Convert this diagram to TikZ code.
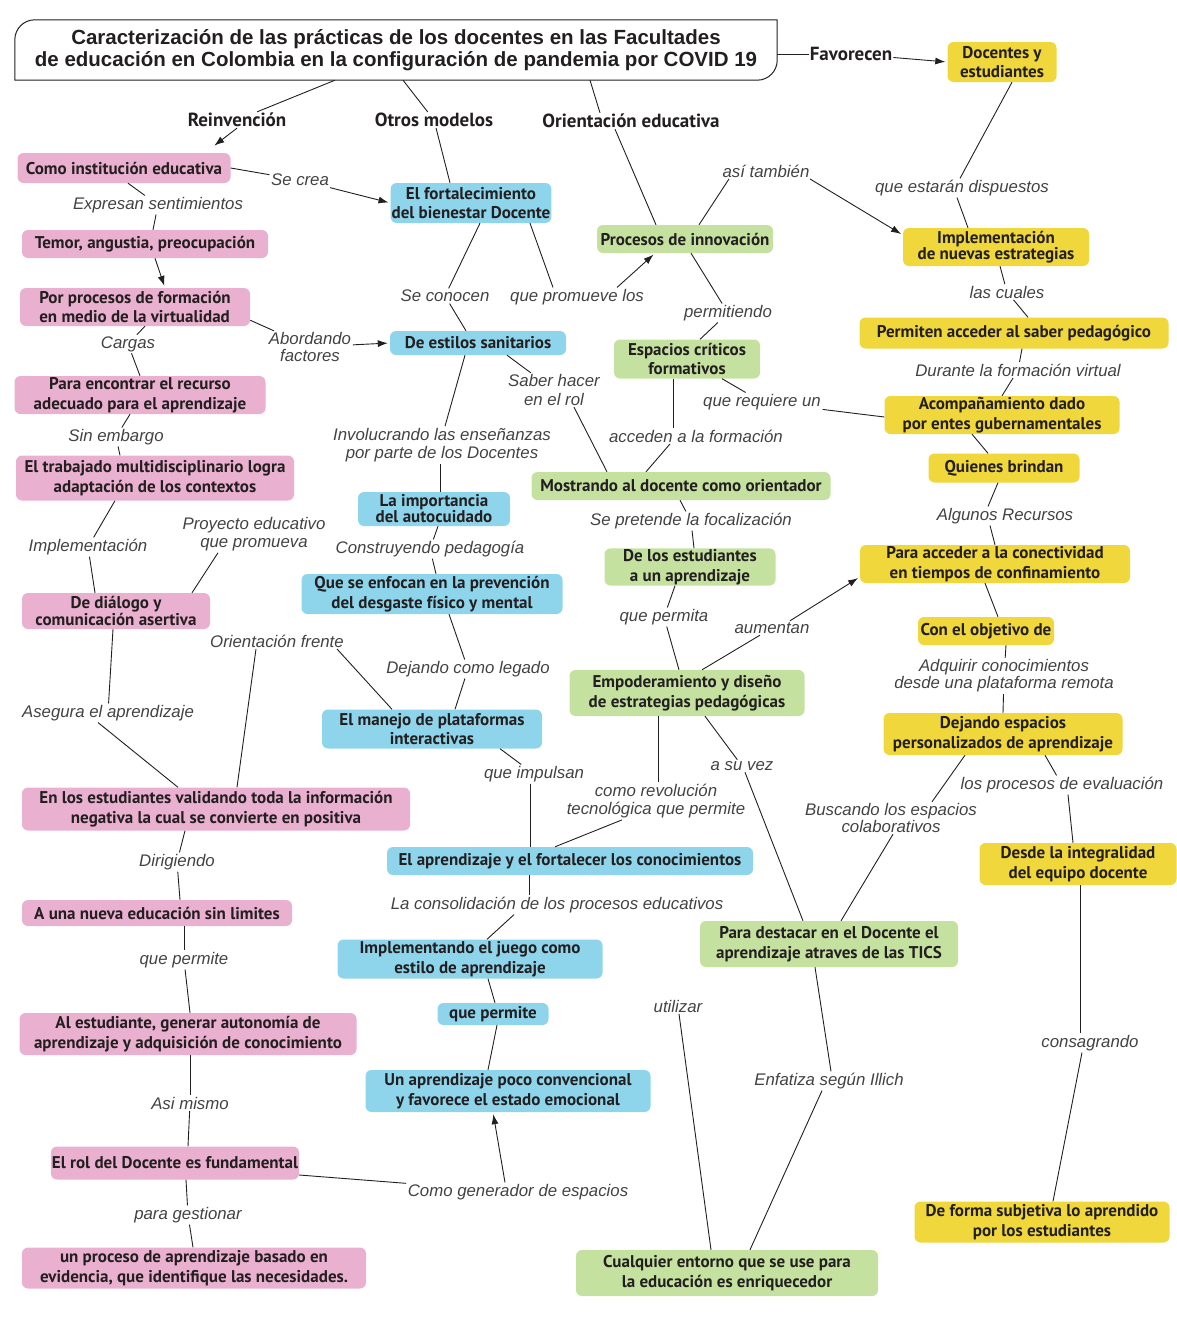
\documentclass[tikz,border=0pt]{standalone}
\usepackage{fontspec}
\usepackage{tikz}
\usetikzlibrary{arrows.meta}
\newfontfamily\boxfont{PT Sans}
\newfontfamily\lblfont{Liberation Sans}
\definecolor{pinkc}{HTML}{EAB0D0}
\definecolor{bluec}{HTML}{8ED5EB}
\definecolor{greenc}{HTML}{C5E1A0}
\definecolor{yellowc}{HTML}{F0D73C}
\definecolor{inkc}{HTML}{231F20}
\begin{document}
\begin{tikzpicture}[x=1pt,y=-1pt,
    box/.style={rounded corners=6pt,align=center,inner sep=1pt,text=inkc,
      font=\boxfont\bfseries\fontsize{17}{19.5}\selectfont},
    pinkbox/.style={box,fill=pinkc},
    bluebox/.style={box,fill=bluec},
    greenbox/.style={box,fill=greenc},
    yellowbox/.style={box,fill=yellowc},
    head/.style={text=inkc,inner sep=1pt,font=\boxfont\bfseries\fontsize{19}{21}\selectfont},
    lbl/.style={text=inkc!85,inner sep=1.5pt,align=center,
      font=\lblfont\itshape\fontsize{16.8}{18.5}\selectfont},
    conn/.style={draw=inkc,line width=0.9pt},
    arr/.style={conn,-{Latex[length=10pt,width=7pt]},shorten >=2pt}]
  \useasboundingbox (0,0) rectangle (1177,1333);

  % title
  \node[minimum width=762pt,minimum height=60pt,inner sep=0pt,align=center,text=inkc,
    font=\lblfont\bfseries\fontsize{20.5}{21.5}\selectfont] (title) at (396,50)
    {Caracterización de las prácticas de los docentes en las Facultades\\
     de educación en Colombia en la configuración de pandemia por COVID 19};
  \draw[line width=1pt,draw=inkc] (title.north east) -- ([xshift=20pt]title.north west)
    arc[start angle=90,end angle=180,radius=20pt] -- (title.south west)
    -- ([xshift=-20pt]title.south east) arc[start angle=270,end angle=360,radius=20pt]
    -- cycle;

  \node[head] (lreinv) at (237,120) {Reinvención};
  \node[head] (lotros) at (434,120) {Otros modelos};
  \node[head] (lorient) at (631,121) {Orientación educativa};
  \node[head] (lfavor) at (851,54) {Favorecen};

  % pink column
  \node[pinkbox,minimum width=213pt,minimum height=30pt] (p1) at (124,168) {Como institución educativa};
  \node[pinkbox,minimum width=246pt,minimum height=28pt] (p2) at (145,244) {Temor, angustia, preocupación};
  \node[pinkbox,minimum width=230pt,minimum height=38pt,align=left] (p3) at (135,307) {Por procesos de formación\\en medio de la virtualidad};
  \node[pinkbox,minimum width=251pt,minimum height=38pt] (p4) at (140,395) {Para encontrar el recurso\\adecuado para el aprendizaje};
  \node[pinkbox,minimum width=278pt,minimum height=45pt] (p5) at (155,478) {El trabajado multidisciplinario logra\\adaptación de los contextos};
  \node[pinkbox,minimum width=188pt,minimum height=36pt,font=\boxfont\bfseries\fontsize{17}{15}\selectfont] (p6) at (116,611) {De diálogo y\\comunicación asertiva};
  \node[pinkbox,minimum width=388pt,minimum height=43pt] (p7) at (216,809) {En los estudiantes validando toda la información\\negativa la cual se convierte en positiva};
  \node[pinkbox,minimum width=270pt,minimum height=26pt] (p8) at (157,913) {A una nueva educación sin limites};
  \node[pinkbox,minimum width=337pt,minimum height=42pt] (p9) at (188,1034) {Al estudiante, generar autonomía de\\aprendizaje y adquisición de conocimiento};
  \node[pinkbox,minimum width=239pt,minimum height=33pt] (p10) at (175,1163) {El rol del Docente es fundamental};
  \node[pinkbox,minimum width=344pt,minimum height=41pt] (p11) at (194,1268) {un proceso de aprendizaje basado en\\evidencia, que identifique las necesidades.};

  % blue column
  \node[bluebox,minimum width=160pt,minimum height=40pt] (b1) at (471,203) {El fortalecimiento\\del bienestar Docente};
  \node[bluebox,minimum width=176pt,minimum height=24pt] (b2) at (478,343) {De estilos sanitarios};
  \node[bluebox,minimum width=152pt,minimum height=34pt,font=\boxfont\bfseries\fontsize{17}{16}\selectfont] (b3) at (434,509) {La importancia\\del autocuidado};
  \node[bluebox,minimum width=261pt,minimum height=40pt] (b4) at (432,594) {Que se enfocan en la prevención\\del desgaste físico y mental};
  \node[bluebox,minimum width=220pt,minimum height=39pt] (b5) at (432,729) {El manejo de plataformas\\interactivas};
  \node[bluebox,minimum width=366pt,minimum height=28pt] (b6) at (570,861) {El aprendizaje y el fortalecer los conocimientos};
  \node[bluebox,minimum width=265pt,minimum height=39pt] (b7) at (470,959) {Implementando el juego como\\estilo de aprendizaje};
  \node[bluebox,minimum width=111pt,minimum height=22pt] (b8) at (493,1014) {que permite};
  \node[bluebox,minimum width=285pt,minimum height=42pt] (b9) at (508,1091) {Un aprendizaje poco convencional\\y favorece el estado emocional};

  % green column
  \node[greenbox,minimum width=176pt,minimum height=28pt] (g1) at (685,239) {Procesos de innovación};
  \node[greenbox,minimum width=146pt,minimum height=39pt] (g2) at (687,359) {Espacios críticos\\formativos};
  \node[greenbox,minimum width=299pt,minimum height=28pt] (g3) at (681,486) {Mostrando al docente como orientador};
  \node[greenbox,minimum width=171pt,minimum height=37pt] (g4) at (690,567) {De los estudiantes\\a un aprendizaje};
  \node[greenbox,minimum width=235pt,minimum height=46pt] (g5) at (687,693) {Empoderamiento y diseño\\de estrategias pedagógicas};
  \node[greenbox,minimum width=258pt,minimum height=46pt] (g6) at (829,944) {Para destacar en el Docente el\\aprendizaje atraves de las TICS};
  \node[greenbox,minimum width=302pt,minimum height=46pt] (g7) at (727,1273) {Cualquier entorno que se use para\\la educación es enriquecedor};

  % yellow column
  \node[yellowbox,minimum width=109pt,minimum height=40pt] (y1) at (1002,62) {Docentes y\\estudiantes};
  \node[yellowbox,minimum width=186pt,minimum height=38pt,font=\boxfont\bfseries\fontsize{17}{16}\selectfont] (y2) at (996,247) {Implementación\\de nuevas estrategias};
  \node[yellowbox,minimum width=309pt,minimum height=31pt] (y3) at (1014,333) {Permiten acceder al saber pedagógico};
  \node[yellowbox,minimum width=235pt,minimum height=38pt] (y4) at (1002,415) {Acompañamiento dado\\por entes gubernamentales};
  \node[yellowbox,minimum width=151pt,minimum height=29pt] (y5) at (1004,468) {Quienes brindan};
  \node[yellowbox,minimum width=270pt,minimum height=38pt] (y6) at (995,564) {Para acceder a la conectividad\\en tiempos de confinamiento};
  \node[yellowbox,minimum width=136pt,minimum height=28pt] (y7) at (986,631) {Con el objetivo de};
  \node[yellowbox,minimum width=239pt,minimum height=42pt] (y8) at (1003,734) {Dejando espacios\\personalizados de aprendizaje};
  \node[yellowbox,minimum width=197pt,minimum height=42pt] (y9) at (1078,864) {Desde la integralidad\\del equipo docente};
  \node[yellowbox,minimum width=255pt,minimum height=41pt] (y10) at (1042,1222) {De forma subjetiva lo aprendido\\por los estudiantes};

  % linking phrases
  \node[lbl] (lcrea) at (300,180) {Se crea};
  \node[lbl] (lexpresan) at (158,205) {Expresan sentimientos};
  \node[lbl] (lconocen) at (445,296) {Se conocen};
  \node[lbl] (lpromueve) at (577,297) {que promueve los};
  \node[lbl] (ltambien) at (766,171) {así también};
  \node[lbl] (ldispuestos) at (962,188) {que estarán dispuestos};
  \node[lbl] (lcuales) at (1007,292) {las cuales};
  \node[lbl] (lpermitiendo) at (728,313) {permitiendo};
  \node[lbl] (lcargas) at (128,344) {Cargas};
  \node[lbl,font=\lblfont\itshape\fontsize{16.8}{16.5}\selectfont] (labordando) at (310,347) {Abordando\\factores};
  \node[lbl] (lsaber) at (554,390) {Saber hacer\\en el rol};
  \node[lbl] (lrequiere) at (762,402) {que requiere un};
  \node[lbl] (ldurante) at (1018,370) {Durante la formación virtual};
  \node[lbl] (lsinembargo) at (116,437) {Sin embargo};
  \node[lbl] (linvolucrando) at (442,445) {Involucrando las enseñanzas\\por parte de los Docentes};
  \node[lbl] (lacceden) at (696,436) {acceden a la formación};
  \node[lbl] (lpretende) at (691,521) {Se pretende la focalización};
  \node[lbl] (lrecursos) at (1005,516) {Algunos Recursos};
  \node[lbl] (limplementacion) at (88,547) {Implementación};
  \node[lbl] (lproyecto) at (254,534) {Proyecto educativo\\que promueva};
  \node[lbl] (lconstruyendo) at (430,549) {Construyendo pedagogía};
  \node[lbl] (lpermita) at (664,617) {que permita};
  \node[lbl] (laumentan) at (772,628) {aumentan};
  \node[lbl] (lorientfrente) at (277,641) {Orientación frente};
  \node[lbl] (llegado) at (468,669) {Dejando como legado};
  \node[lbl,font=\lblfont\itshape\fontsize{16.8}{17}\selectfont] (ladquirir) at (1004,676) {Adquirir conocimientos\\desde una plataforma remota};
  \node[lbl] (lasegura) at (108,713) {Asegura el aprendizaje};
  \node[lbl] (limpulsan) at (534,774) {que impulsan};
  \node[lbl] (lsuvez) at (742,766) {a su vez};
  \node[lbl] (lrevolucion) at (656,801) {como revolución\\tecnológica que permite};
  \node[lbl,font=\lblfont\itshape\fontsize{16.8}{14}\selectfont] (lbuscando) at (891,818) {Buscando los espacios\\colaborativos};
  \node[lbl] (levaluacion) at (1062,785) {los procesos de evaluación};
  \node[lbl] (ldirigiendo) at (177,862) {Dirigiendo};
  \node[lbl] (lconsolidacion) at (557,905) {La consolidación de los procesos educativos};
  \node[lbl] (lqpermite) at (184,960) {que permite};
  \node[lbl] (lutilizar) at (678,1006) {utilizar};
  \node[lbl] (lconsagrando) at (1090,1043) {consagrando};
  \node[lbl] (lillich) at (829,1081) {Enfatiza según Illich};
  \node[lbl] (lasimismo) at (190,1103) {Asi mismo};
  \node[lbl] (lgenerador) at (518,1192) {Como generador de espacios};
  \node[lbl] (lgestionar) at (188,1215) {para gestionar};

  % title branches
  \draw[conn] ([xshift=-61pt]title.south) -- (lreinv);
  \draw[arr] (lreinv.south) -- ([xshift=-18pt,yshift=6pt]p1.north east);
  \draw[conn] ([xshift=7pt]title.south) -- (lotros);
  \draw[conn] (lotros) -- ([xshift=-21pt]b1.north);
  \draw[conn] ([xshift=194pt]title.south) -- ([xshift=-31pt]lorient.north);
  \draw[conn] ([xshift=-16pt]lorient.south) -- ([xshift=-29pt]g1.north);
  \draw[conn] ([yshift=-4pt]title.east) -- (lfavor);
  \draw[arr] (lfavor) -- (y1.west);

  % pink links
  \draw[conn] (p1.east) -- (lcrea);
  \draw[arr] (lcrea) -- (b1.west);
  \draw[conn] ([xshift=4pt]p1.south) -- (lexpresan);
  \draw[conn] (lexpresan) -- ([xshift=8pt]p2.north);
  \draw[arr] ([xshift=10pt]p2.south) -- ([xshift=30pt]p3.north);
  \draw[conn] ([xshift=10pt]p3.south) -- (lcargas);
  \draw[conn] (lcargas) -- (p4.north);
  \draw[conn] ([yshift=6pt]p3.south east) -- (labordando);
  \draw[arr] (labordando) -- (b2.west);
  \draw[conn] ([xshift=-10pt]p4.south) -- (lsinembargo);
  \draw[conn] (lsinembargo) -- ([xshift=-35pt]p5.north);
  \draw[conn] ([xshift=-40pt]p5.south) -- (limplementacion);
  \draw[conn] (limplementacion) -- ([xshift=-21pt]p6.north);
  \draw[conn] ([xshift=-36pt]lproyecto.south) -- ([xshift=76pt]p6.north);
  \draw[conn] ([xshift=-3pt]p6.south) -- (lasegura);
  \draw[conn] ([xshift=-10pt]lasegura.south) -- ([xshift=-38pt]p7.north);
  \draw[conn] ([xshift=-21pt]lorientfrente.south) -- ([xshift=21pt]p7.north);
  \draw[conn] ([xshift=60pt]lorientfrente.south) -- ([xshift=-40pt]b5.north);
  \draw[conn] ([xshift=-31pt]p7.south) -- (ldirigiendo);
  \draw[conn] (ldirigiendo) -- ([xshift=23pt]p8.north);
  \draw[conn] ([xshift=27pt]p8.south) -- (lqpermite);
  \draw[conn] (lqpermite) -- ([xshift=2pt]p9.north);
  \draw[conn] ([xshift=2pt]p9.south) -- (lasimismo);
  \draw[conn] (lasimismo) -- ([xshift=13pt]p10.north);
  \draw[conn] ([xshift=11pt]p10.south) -- (lgestionar);
  \draw[conn] (lgestionar) -- ([xshift=-1pt]p11.north);
  \draw[conn] ([yshift=-12pt]p10.east) -- (lgenerador);
  \draw[arr] ([xshift=-13pt]lgenerador.north) -- ([xshift=-15pt]b9.south);

  % blue links
  \draw[conn] ([xshift=9pt]b1.south) -- (lconocen);
  \draw[conn] (lconocen) -- ([xshift=-12pt]b2.north);
  \draw[conn] ([xshift=59pt]b1.south) -- ([xshift=-24pt]lpromueve.north);
  \draw[arr] ([xshift=40pt]lpromueve.north) -- ([xshift=-30pt]g1.south);
  \draw[conn] ([xshift=-13pt]b2.south) -- ([xshift=3pt]linvolucrando.north);
  \draw[conn] ([xshift=-2pt]linvolucrando.south) -- ([xshift=6pt]b3.north);
  \draw[conn] ([xshift=29pt]b2.south) -- (lsaber);
  \draw[conn] ([xshift=20pt]lsaber.south) -- ([xshift=-74pt]g3.north);
  \draw[conn] ([xshift=4pt]b3.south) -- (lconstruyendo);
  \draw[conn] (lconstruyendo) -- ([xshift=4pt]b4.north);
  \draw[conn] ([xshift=17pt]b4.south) -- (llegado);
  \draw[conn] (llegado) -- ([xshift=23pt]b5.north);
  \draw[conn] ([xshift=68pt]b5.south) -- (limpulsan);
  \draw[conn] ([xshift=-4pt]limpulsan.south) -- ([xshift=-40pt]b6.north);
  \draw[conn] ([xshift=-41pt]b6.south) -- ([xshift=-28pt]lconsolidacion.north);
  \draw[conn] ([xshift=-43pt]lconsolidacion.south) -- ([xshift=17pt]b7.north);
  \draw[conn] ([xshift=18pt]b7.south) -- ([xshift=2pt]b8.north);
  \draw[conn] ([xshift=4pt]b8.south) -- ([xshift=-20pt]b9.north);

  % green links
  \draw[conn] ([xshift=14pt]g1.north) -- ([xshift=-37pt]ltambien.south);
  \draw[arr] ([xshift=44pt]ltambien.south) -- ([yshift=12pt]y2.west);
  \draw[conn] ([xshift=6pt]g1.south) -- (lpermitiendo);
  \draw[conn] (lpermitiendo) -- ([xshift=13pt]g2.north);
  \draw[conn] ([xshift=35pt]g2.south) -- (lrequiere);
  \draw[conn] (lrequiere) -- ([yshift=-2pt]y4.west);
  \draw[conn] ([xshift=-14pt]g2.south) -- ([xshift=-23pt]lacceden.north);
  \draw[conn] ([xshift=-26pt]lacceden.south) -- ([xshift=-35pt]g3.north);
  \draw[conn] ([xshift=-1pt]g3.south) -- (lpretende);
  \draw[conn] (lpretende) -- ([xshift=4pt]g4.north);
  \draw[conn] ([xshift=-15pt]g4.south) -- (lpermita);
  \draw[conn] (lpermita) -- ([xshift=-8pt]g5.north);
  \draw[conn] ([xshift=15pt]g5.north) -- (laumentan);
  \draw[arr] ([xshift=18pt]laumentan.north) -- ([yshift=-13pt]y6.west);
  \draw[conn] ([xshift=-29pt]g5.south) -- ([xshift=2pt]lrevolucion.north);
  \draw[conn] ([xshift=-34pt]lrevolucion.south) -- ([xshift=-15pt]b6.north);
  \draw[conn] ([xshift=18pt]g5.south) -- (lsuvez);
  \draw[conn] ([xshift=3pt]lsuvez.south) -- ([xshift=-26pt]g6.north);
  \draw[conn] ([xshift=-14pt]g6.south) -- ([xshift=2pt]lillich.north);
  \draw[conn] ([xshift=-7pt]lillich.south) -- ([xshift=23pt]g7.north);
  \draw[conn] ([xshift=1pt]lutilizar.south) -- ([xshift=-16pt]g7.north);

  % yellow links
  \draw[conn] ([xshift=10pt]y1.south) -- ([xshift=-2pt]ldispuestos.north);
  \draw[conn] ([xshift=-5pt]ldispuestos.south) -- ([xshift=-28pt]y2.north);
  \draw[conn] ([xshift=4pt]y2.south) -- (lcuales);
  \draw[conn] (lcuales) -- ([xshift=14pt]y3.north);
  \draw[conn] ([xshift=8pt]y3.south) -- (ldurante);
  \draw[conn] (ldurante) -- (y4.north);
  \draw[conn] ([xshift=-30pt]y4.south) -- ([xshift=-16pt]y5.north);
  \draw[conn] ([xshift=-6pt]y5.south) -- ([xshift=-17pt]lrecursos.north);
  \draw[conn] ([xshift=-15pt]lrecursos.south) -- (y6.north);
  \draw[conn] ([xshift=-10pt]y6.south) -- ([xshift=12pt]y7.north);
  \draw[conn] ([xshift=20pt]y7.south) -- (ladquirir);
  \draw[conn] (ladquirir) -- (y8.north);
  \draw[conn] ([xshift=-38pt]y8.south) -- ([xshift=41pt]lbuscando.north);
  \draw[conn] ([xshift=2pt]lbuscando.south) -- ([xshift=12pt]g6.north);
  \draw[conn] ([xshift=42pt]y8.south) -- (levaluacion);
  \draw[conn] ([xshift=6pt]levaluacion.south) -- ([xshift=-5pt]y9.north);
  \draw[conn] ([xshift=2pt]y9.south) -- ([xshift=-10pt]lconsagrando.north);
  \draw[conn] ([xshift=-8pt]lconsagrando.south) -- ([xshift=11pt]y10.north);
\end{tikzpicture}
\end{document}
